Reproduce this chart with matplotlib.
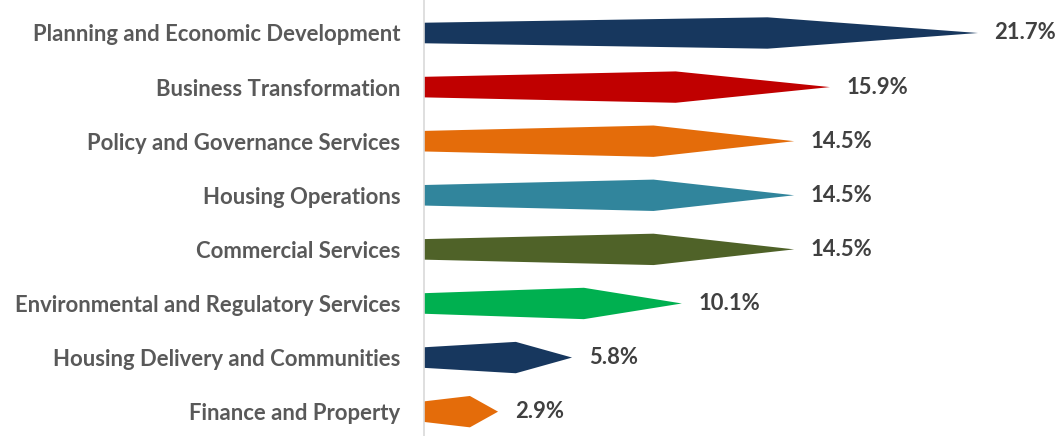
import numpy as np
import matplotlib.pyplot as plt
from matplotlib.patches import Polygon

departments = [
    'Planning and Economic Development',
    'Business Transformation',
    'Policy and Governance Services',
    'Housing Operations',
    'Commercial Services',
    'Environmental and Regulatory Services',
    'Housing Delivery and Communities',
    'Finance and Property',
]
shares = [21.7, 15.9, 14.5, 14.5, 14.5, 10.1, 5.8, 2.9]
colors = ['#17375E', '#C00000', '#E46C0A', '#31859C',
          '#4F6228', '#00B050', '#17375E', '#E46C0A']

# arrow shape: flat left end, widening to a shoulder, then tapering to the tip
BASE_HALF = 0.19
SHOULDER_HALF = 0.29
SHOULDER_POS = 0.62


def arrow(value, y, color):
    s = value * SHOULDER_POS
    pts = [(0, y - BASE_HALF), (s, y - SHOULDER_HALF), (value, y),
           (s, y + SHOULDER_HALF), (0, y + BASE_HALF)]
    return Polygon(pts, closed=True, facecolor=color, edgecolor='none')


fig = plt.figure(figsize=(10.63, 4.36), dpi=100)
ax = fig.add_axes([424 / 1063, 0, 1 - 424 / 1063, 1])

for i, (v, c) in enumerate(zip(shares, colors)):
    ax.add_patch(arrow(v, i, c))
    ax.text(v + 0.65, i, f'{v:.1f}%', va='center', ha='left',
            fontsize=15.8, fontweight='bold', color='#404040', family='Lato')

ax.set_xlim(0, 25.03)
ax.set_ylim(7.45, -0.61)
ax.set_yticks(range(len(departments)))
ax.set_yticklabels(departments, fontsize=15.9, fontweight='bold',
                   color='#595959', family='Lato')
ax.tick_params(axis='y', length=0, pad=17)
ax.set_xticks([])
for side in ['top', 'right', 'bottom']:
    ax.spines[side].set_visible(False)
ax.spines['left'].set_color('#D9D9D9')
ax.spines['left'].set_linewidth(1.2)

fig.savefig('out.png', dpi=100)
